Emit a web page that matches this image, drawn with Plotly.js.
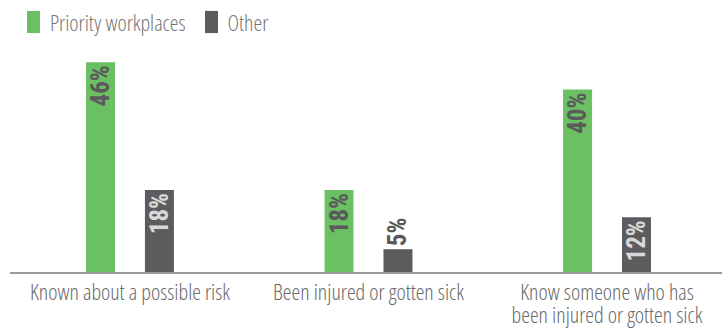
<!DOCTYPE html>
<html><head><meta charset="utf-8">
<script src="https://cdn.plot.ly/plotly-3.0.1.min.js"></script>
<style>
html,body{margin:0;padding:0;background:#fff}
#chart .xtick text, #chart .annotation-text { font-stretch: 75% !important; font-weight: 300 !important; }
</style>
</head><body><div id="chart" style="width:722px;height:328px"></div>
<script>
const categories = ["Known about a possible risk", "Been injured or gotten sick", "Know someone who has<br>been injured or gotten sick"];
const seriesNames = ["Priority workplaces", "Other"];
const seriesColors = ["#6cc064", "#5c5c5e"];
const priorityValues = [46, 18, 40];
const otherValues = [18, 5, 12];

const labelFont = "'Open Sans', sans-serif";
const valueFont = "'Roboto Condensed', 'Roboto', sans-serif";

const traces = [
  {
    type: "bar", name: seriesNames[0], x: categories, y: priorityValues,
    marker: {color: seriesColors[0]},
    text: priorityValues.map(v => v + "%"),
    textposition: priorityValues.map(() => "inside"),
    insidetextanchor: "end", textangle: -90, constraintext: "none",
    textfont: {family: valueFont, size: 25, weight: 700, color: "#5a5a5a"},
    cliponaxis: false, hoverinfo: "skip", showlegend: false
  },
  {
    type: "bar", name: seriesNames[1], x: categories, y: otherValues,
    marker: {color: seriesColors[1]},
    text: otherValues.map(v => v + "%"),
    textposition: otherValues.map(v => v < 8 ? "outside" : "inside"),
    insidetextanchor: "end", textangle: -90, constraintext: "none",
    textfont: {family: valueFont, size: 25, weight: 700, color: otherValues.map(v => v < 8 ? "#5a5a5a" : "#d8d8d8")},
    cliponaxis: false, hoverinfo: "skip", showlegend: false
  }
];

// manual legend (swatches + labels) in paper coordinates
const swatchX = [0.0239, 0.2739];
const labelCenterX = [0.1517, 0.3343];
const shapes = seriesNames.map((n, i) => ({
  type: "rect", xref: "paper", yref: "paper",
  x0: swatchX[i], x1: swatchX[i] + 0.0182, y0: 1.048, y1: 1.145,
  fillcolor: seriesColors[i], line: {width: 0}
}));
const annotations = seriesNames.map((n, i) => ({
  text: n, xref: "paper", yref: "paper", x: labelCenterX[i], y: 1.096,
  xanchor: "center", yanchor: "middle", showarrow: false,
  font: {family: labelFont, size: 22, color: "#777"}
}));

const layout = {
  width: 722, height: 328,
  margin: {l: 10, r: 0, t: 44, b: 56},
  paper_bgcolor: "#fff", plot_bgcolor: "#fff",
  barmode: "group", bargap: 0.506, bargroupgap: 0.508,
  showlegend: false,
  shapes: shapes, annotations: annotations,
  xaxis: {type: "category", range: [-0.503, 2.482], showgrid: false, zeroline: false,
          showline: true, linecolor: "#9a9a9a", linewidth: 2, ticks: "", tickangle: 0,
          tickfont: {family: labelFont, size: 22, color: "#6a6a6a"}, fixedrange: true},
  yaxis: {range: [0, 50], visible: false, fixedrange: true}
};

Plotly.newPlot("chart", traces, layout, {displayModeBar: false, staticPlot: true}).then(gd => {
  // tighter line spacing for wrapped tick labels
  gd.querySelectorAll(".xtick text tspan.line").forEach(t => {
    if (t.getAttribute("dy") && parseFloat(t.getAttribute("dy")) > 0) t.setAttribute("dy", "1.04em");
  });
});
</script></body></html>
